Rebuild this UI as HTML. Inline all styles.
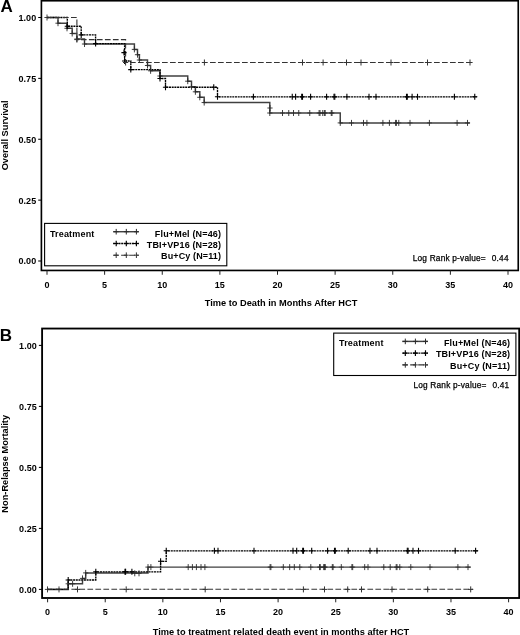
<!DOCTYPE html>
<html><head><meta charset="utf-8"><title>Figure</title>
<style>html,body{margin:0;padding:0;background:#fff}svg{display:block}text{font-family:'Liberation Sans', Arial, sans-serif;fill:#000}</style>
</head><body>
<svg width="520" height="635" viewBox="0 0 520 635">
<rect width="520" height="635" fill="#fff"/>
<rect x="41.4" y="0.75" width="476.85" height="269.7" fill="none" stroke="#000" stroke-width="1.65"/>
<path d="M38.20 261.00H41.4" stroke="#000" stroke-width="1.05"/>
<text x="36.2" y="264.45" text-anchor="end" font-size="9" font-weight="bold" textLength="17.7" lengthAdjust="spacing">0.00</text>
<path d="M38.20 200.12H41.4" stroke="#000" stroke-width="1.05"/>
<text x="36.2" y="203.57" text-anchor="end" font-size="9" font-weight="bold" textLength="17.7" lengthAdjust="spacing">0.25</text>
<path d="M38.20 139.25H41.4" stroke="#000" stroke-width="1.05"/>
<text x="36.2" y="142.70" text-anchor="end" font-size="9" font-weight="bold" textLength="17.7" lengthAdjust="spacing">0.50</text>
<path d="M38.20 78.38H41.4" stroke="#000" stroke-width="1.05"/>
<text x="36.2" y="81.83" text-anchor="end" font-size="9" font-weight="bold" textLength="17.7" lengthAdjust="spacing">0.75</text>
<path d="M38.20 17.50H41.4" stroke="#000" stroke-width="1.05"/>
<text x="36.2" y="20.95" text-anchor="end" font-size="9" font-weight="bold" textLength="17.7" lengthAdjust="spacing">1.00</text>
<path d="M47.00 270.45V274.75" stroke="#222" stroke-width="1.0"/>
<text x="47.00" y="288" text-anchor="middle" font-size="9" font-weight="bold">0</text>
<path d="M104.62 270.45V274.75" stroke="#222" stroke-width="1.0"/>
<text x="104.62" y="288" text-anchor="middle" font-size="9" font-weight="bold">5</text>
<path d="M162.25 270.45V274.75" stroke="#222" stroke-width="1.0"/>
<text x="162.25" y="288" text-anchor="middle" font-size="9" font-weight="bold">10</text>
<path d="M219.88 270.45V274.75" stroke="#222" stroke-width="1.0"/>
<text x="219.88" y="288" text-anchor="middle" font-size="9" font-weight="bold">15</text>
<path d="M277.50 270.45V274.75" stroke="#222" stroke-width="1.0"/>
<text x="277.50" y="288" text-anchor="middle" font-size="9" font-weight="bold">20</text>
<path d="M335.12 270.45V274.75" stroke="#222" stroke-width="1.0"/>
<text x="335.12" y="288" text-anchor="middle" font-size="9" font-weight="bold">25</text>
<path d="M392.75 270.45V274.75" stroke="#222" stroke-width="1.0"/>
<text x="392.75" y="288" text-anchor="middle" font-size="9" font-weight="bold">30</text>
<path d="M450.38 270.45V274.75" stroke="#222" stroke-width="1.0"/>
<text x="450.38" y="288" text-anchor="middle" font-size="9" font-weight="bold">35</text>
<path d="M508.00 270.45V274.75" stroke="#222" stroke-width="1.0"/>
<text x="508.00" y="288" text-anchor="middle" font-size="9" font-weight="bold">40</text>
<text x="0.5" y="12.3" font-size="17" font-weight="bold">A</text>
<text transform="translate(7.6 135.4) rotate(-90)" text-anchor="middle" font-size="9.25" font-weight="bold">Overall Survival</text>
<text x="281" y="306" text-anchor="middle" font-size="9.25" font-weight="bold" textLength="152.6" lengthAdjust="spacing">Time to Death in Months After HCT</text>
<path d="M47.00 17.50H58.00V23.20H67.00V28.30H72.20V33.50H76.90V39.00H84.50V44.00H134.40V49.40H137.50V54.70H139.40V60.00H147.50V65.50H150.60V70.80H160.00V76.00H187.75V81.20H191.50V86.80H195.40V91.80H199.80V97.30H204.20V102.55H269.80V113.00H340.25V122.90H469.8" stroke="#404040" stroke-width="1.45" fill="none"/>
<path d="M47.00 17.50H67.30V26.20H81.20V34.90H95.60V43.60H124.60V61.00H130.80V69.60H160.00V78.50H165.50V87.20H217.50V96.80H476.8" stroke="#000" stroke-width="1.35" stroke-dasharray="2.0 0.7" fill="none"/>
<path d="M47.00 17.50H76.90V39.60H125.60V62.50H472" stroke="#333" stroke-width="1.1" stroke-dasharray="5.7 2.3" fill="none"/>
<path d="M44.40 17.50H49.60M47.00 14.50V20.50" stroke="#2a2a2a" stroke-width="0.9" fill="none"/>
<path d="M55.40 23.20H60.60M58.00 20.20V26.20" stroke="#2a2a2a" stroke-width="0.9" fill="none"/>
<path d="M64.40 28.30H69.60M67.00 25.30V31.30" stroke="#2a2a2a" stroke-width="0.9" fill="none"/>
<path d="M69.60 33.50H74.80M72.20 30.50V36.50" stroke="#2a2a2a" stroke-width="0.9" fill="none"/>
<path d="M74.30 39.00H79.50M76.90 36.00V42.00" stroke="#2a2a2a" stroke-width="0.9" fill="none"/>
<path d="M81.90 44.00H87.10M84.50 41.00V47.00" stroke="#2a2a2a" stroke-width="0.9" fill="none"/>
<path d="M131.80 49.40H137.00M134.40 46.40V52.40" stroke="#2a2a2a" stroke-width="0.9" fill="none"/>
<path d="M134.90 54.70H140.10M137.50 51.70V57.70" stroke="#2a2a2a" stroke-width="0.9" fill="none"/>
<path d="M136.80 60.00H142.00M139.40 57.00V63.00" stroke="#2a2a2a" stroke-width="0.9" fill="none"/>
<path d="M144.90 65.50H150.10M147.50 62.50V68.50" stroke="#2a2a2a" stroke-width="0.9" fill="none"/>
<path d="M148.00 70.80H153.20M150.60 67.80V73.80" stroke="#2a2a2a" stroke-width="0.9" fill="none"/>
<path d="M157.40 76.00H162.60M160.00 73.00V79.00" stroke="#2a2a2a" stroke-width="0.9" fill="none"/>
<path d="M185.15 81.20H190.35M187.75 78.20V84.20" stroke="#2a2a2a" stroke-width="0.9" fill="none"/>
<path d="M188.90 86.80H194.10M191.50 83.80V89.80" stroke="#2a2a2a" stroke-width="0.9" fill="none"/>
<path d="M192.80 91.80H198.00M195.40 88.80V94.80" stroke="#2a2a2a" stroke-width="0.9" fill="none"/>
<path d="M197.20 97.30H202.40M199.80 94.30V100.30" stroke="#2a2a2a" stroke-width="0.9" fill="none"/>
<path d="M201.60 102.55H206.80M204.20 99.55V105.55" stroke="#2a2a2a" stroke-width="0.9" fill="none"/>
<path d="M267.20 113.00H272.40M269.80 110.00V116.00" stroke="#2a2a2a" stroke-width="0.9" fill="none"/>
<path d="M337.65 122.90H342.85M340.25 119.90V125.90" stroke="#2a2a2a" stroke-width="0.9" fill="none"/>
<path d="M267.40 108.00H272.60M270.00 105.00V111.00" stroke="#2a2a2a" stroke-width="0.9" fill="none"/>
<path d="M282.50 110.00V116.00" stroke="#2a2a2a" stroke-width="0.9" fill="none"/><path d="M280.00 113.00H285.00" stroke="#2a2a2a" stroke-width="0.68" fill="none"/>
<path d="M288.75 110.00V116.00" stroke="#2a2a2a" stroke-width="0.9" fill="none"/><path d="M286.25 113.00H291.25" stroke="#2a2a2a" stroke-width="0.68" fill="none"/>
<path d="M293.50 110.00V116.00" stroke="#2a2a2a" stroke-width="0.9" fill="none"/><path d="M291.00 113.00H296.00" stroke="#2a2a2a" stroke-width="0.68" fill="none"/>
<path d="M298.75 110.00V116.00" stroke="#2a2a2a" stroke-width="0.9" fill="none"/><path d="M296.25 113.00H301.25" stroke="#2a2a2a" stroke-width="0.68" fill="none"/>
<path d="M309.75 110.00V116.00" stroke="#2a2a2a" stroke-width="0.9" fill="none"/><path d="M307.25 113.00H312.25" stroke="#2a2a2a" stroke-width="0.68" fill="none"/>
<path d="M319.10 110.00V116.00" stroke="#2a2a2a" stroke-width="0.9" fill="none"/><path d="M316.60 113.00H321.60" stroke="#2a2a2a" stroke-width="0.68" fill="none"/>
<path d="M320.00 110.00V116.00" stroke="#2a2a2a" stroke-width="0.9" fill="none"/><path d="M317.50 113.00H322.50" stroke="#2a2a2a" stroke-width="0.68" fill="none"/>
<path d="M322.75 110.00V116.00" stroke="#2a2a2a" stroke-width="0.9" fill="none"/><path d="M320.25 113.00H325.25" stroke="#2a2a2a" stroke-width="0.68" fill="none"/>
<path d="M324.40 110.00V116.00" stroke="#2a2a2a" stroke-width="0.9" fill="none"/><path d="M321.90 113.00H326.90" stroke="#2a2a2a" stroke-width="0.68" fill="none"/>
<path d="M325.20 110.00V116.00" stroke="#2a2a2a" stroke-width="0.9" fill="none"/><path d="M322.70 113.00H327.70" stroke="#2a2a2a" stroke-width="0.68" fill="none"/>
<path d="M331.25 110.00V116.00" stroke="#2a2a2a" stroke-width="0.9" fill="none"/><path d="M328.75 113.00H333.75" stroke="#2a2a2a" stroke-width="0.68" fill="none"/>
<path d="M332.00 110.00V116.00" stroke="#2a2a2a" stroke-width="0.9" fill="none"/><path d="M329.50 113.00H334.50" stroke="#2a2a2a" stroke-width="0.68" fill="none"/>
<path d="M351.50 119.90V125.90" stroke="#2a2a2a" stroke-width="0.9" fill="none"/><path d="M349.00 122.90H354.00" stroke="#2a2a2a" stroke-width="0.68" fill="none"/>
<path d="M363.50 119.90V125.90" stroke="#2a2a2a" stroke-width="0.9" fill="none"/><path d="M361.00 122.90H366.00" stroke="#2a2a2a" stroke-width="0.68" fill="none"/>
<path d="M366.90 119.90V125.90" stroke="#2a2a2a" stroke-width="0.9" fill="none"/><path d="M364.40 122.90H369.40" stroke="#2a2a2a" stroke-width="0.68" fill="none"/>
<path d="M382.90 119.90V125.90" stroke="#2a2a2a" stroke-width="0.9" fill="none"/><path d="M380.40 122.90H385.40" stroke="#2a2a2a" stroke-width="0.68" fill="none"/>
<path d="M389.40 119.90V125.90" stroke="#2a2a2a" stroke-width="0.9" fill="none"/><path d="M386.90 122.90H391.90" stroke="#2a2a2a" stroke-width="0.68" fill="none"/>
<path d="M395.60 119.90V125.90" stroke="#2a2a2a" stroke-width="0.9" fill="none"/><path d="M393.10 122.90H398.10" stroke="#2a2a2a" stroke-width="0.68" fill="none"/>
<path d="M396.40 119.90V125.90" stroke="#2a2a2a" stroke-width="0.9" fill="none"/><path d="M393.90 122.90H398.90" stroke="#2a2a2a" stroke-width="0.68" fill="none"/>
<path d="M398.75 119.90V125.90" stroke="#2a2a2a" stroke-width="0.9" fill="none"/><path d="M396.25 122.90H401.25" stroke="#2a2a2a" stroke-width="0.68" fill="none"/>
<path d="M410.00 119.90V125.90" stroke="#2a2a2a" stroke-width="0.9" fill="none"/><path d="M407.50 122.90H412.50" stroke="#2a2a2a" stroke-width="0.68" fill="none"/>
<path d="M429.40 119.90V125.90" stroke="#2a2a2a" stroke-width="0.9" fill="none"/><path d="M426.90 122.90H431.90" stroke="#2a2a2a" stroke-width="0.68" fill="none"/>
<path d="M457.10 119.90V125.90" stroke="#2a2a2a" stroke-width="0.9" fill="none"/><path d="M454.60 122.90H459.60" stroke="#2a2a2a" stroke-width="0.68" fill="none"/>
<path d="M464.90 122.90H470.10M467.50 119.90V125.90" stroke="#2a2a2a" stroke-width="0.9" fill="none"/>
<path d="M64.70 26.20H69.90M67.30 23.20V29.20" stroke="#000" stroke-width="1.1" fill="none"/>
<path d="M78.60 34.90H83.80M81.20 31.90V37.90" stroke="#000" stroke-width="1.1" fill="none"/>
<path d="M93.00 43.60H98.20M95.60 40.60V46.60" stroke="#000" stroke-width="1.1" fill="none"/>
<path d="M122.00 61.00H127.20M124.60 58.00V64.00" stroke="#000" stroke-width="1.1" fill="none"/>
<path d="M128.20 69.60H133.40M130.80 66.60V72.60" stroke="#000" stroke-width="1.1" fill="none"/>
<path d="M157.40 78.50H162.60M160.00 75.50V81.50" stroke="#000" stroke-width="1.1" fill="none"/>
<path d="M162.90 87.20H168.10M165.50 84.20V90.20" stroke="#000" stroke-width="1.1" fill="none"/>
<path d="M214.90 96.80H220.10M217.50 93.80V99.80" stroke="#000" stroke-width="1.1" fill="none"/>
<path d="M121.40 52.60H126.60M124.00 49.60V55.60" stroke="#000" stroke-width="1.1" fill="none"/>
<path d="M211.15 87.20H216.35M213.75 84.20V90.20" stroke="#000" stroke-width="1.1" fill="none"/>
<path d="M253.40 93.80V99.80" stroke="#000" stroke-width="1.1" fill="none"/><path d="M250.90 96.80H255.90" stroke="#000" stroke-width="0.83" fill="none"/>
<path d="M292.25 93.80V99.80" stroke="#000" stroke-width="1.1" fill="none"/><path d="M289.75 96.80H294.75" stroke="#000" stroke-width="0.83" fill="none"/>
<path d="M295.60 93.80V99.80" stroke="#000" stroke-width="1.1" fill="none"/><path d="M293.10 96.80H298.10" stroke="#000" stroke-width="0.83" fill="none"/>
<path d="M301.70 93.80V99.80" stroke="#000" stroke-width="1.1" fill="none"/><path d="M299.20 96.80H304.20" stroke="#000" stroke-width="0.83" fill="none"/>
<path d="M302.50 93.80V99.80" stroke="#000" stroke-width="1.1" fill="none"/><path d="M300.00 96.80H305.00" stroke="#000" stroke-width="0.83" fill="none"/>
<path d="M310.60 93.80V99.80" stroke="#000" stroke-width="1.1" fill="none"/><path d="M308.10 96.80H313.10" stroke="#000" stroke-width="0.83" fill="none"/>
<path d="M326.60 93.80V99.80" stroke="#000" stroke-width="1.1" fill="none"/><path d="M324.10 96.80H329.10" stroke="#000" stroke-width="0.83" fill="none"/>
<path d="M334.00 93.80V99.80" stroke="#000" stroke-width="1.1" fill="none"/><path d="M331.50 96.80H336.50" stroke="#000" stroke-width="0.83" fill="none"/>
<path d="M334.80 93.80V99.80" stroke="#000" stroke-width="1.1" fill="none"/><path d="M332.30 96.80H337.30" stroke="#000" stroke-width="0.83" fill="none"/>
<path d="M346.90 93.80V99.80" stroke="#000" stroke-width="1.1" fill="none"/><path d="M344.40 96.80H349.40" stroke="#000" stroke-width="0.83" fill="none"/>
<path d="M369.00 93.80V99.80" stroke="#000" stroke-width="1.1" fill="none"/><path d="M366.50 96.80H371.50" stroke="#000" stroke-width="0.83" fill="none"/>
<path d="M376.00 93.80V99.80" stroke="#000" stroke-width="1.1" fill="none"/><path d="M373.50 96.80H378.50" stroke="#000" stroke-width="0.83" fill="none"/>
<path d="M406.50 93.80V99.80" stroke="#000" stroke-width="1.1" fill="none"/><path d="M404.00 96.80H409.00" stroke="#000" stroke-width="0.83" fill="none"/>
<path d="M407.30 93.80V99.80" stroke="#000" stroke-width="1.1" fill="none"/><path d="M404.80 96.80H409.80" stroke="#000" stroke-width="0.83" fill="none"/>
<path d="M412.10 93.80V99.80" stroke="#000" stroke-width="1.1" fill="none"/><path d="M409.60 96.80H414.60" stroke="#000" stroke-width="0.83" fill="none"/>
<path d="M417.50 93.80V99.80" stroke="#000" stroke-width="1.1" fill="none"/><path d="M415.00 96.80H420.00" stroke="#000" stroke-width="0.83" fill="none"/>
<path d="M454.40 93.80V99.80" stroke="#000" stroke-width="1.1" fill="none"/><path d="M451.90 96.80H456.90" stroke="#000" stroke-width="0.83" fill="none"/>
<path d="M472.15 96.80H477.35M474.75 93.80V99.80" stroke="#000" stroke-width="1.1" fill="none"/>
<path d="M74.30 39.60H79.50M76.90 36.60V42.60" stroke="#333" stroke-width="1.0" fill="none"/>
<path d="M123.00 62.50H128.20M125.60 59.50V65.50" stroke="#333" stroke-width="1.0" fill="none"/>
<path d="M201.80 62.50H207.00M204.40 59.50V65.50" stroke="#333" stroke-width="1.0" fill="none"/>
<path d="M299.90 62.50H305.10M302.50 59.50V65.50" stroke="#333" stroke-width="1.0" fill="none"/>
<path d="M320.50 62.50H325.70M323.10 59.50V65.50" stroke="#333" stroke-width="1.0" fill="none"/>
<path d="M343.90 62.50H349.10M346.50 59.50V65.50" stroke="#333" stroke-width="1.0" fill="none"/>
<path d="M358.40 62.50H363.60M361.00 59.50V65.50" stroke="#333" stroke-width="1.0" fill="none"/>
<path d="M388.40 62.50H393.60M391.00 59.50V65.50" stroke="#333" stroke-width="1.0" fill="none"/>
<path d="M424.90 62.50H430.10M427.50 59.50V65.50" stroke="#333" stroke-width="1.0" fill="none"/>
<path d="M467.40 62.50H472.60M470.00 59.50V65.50" stroke="#333" stroke-width="1.0" fill="none"/>
<rect x="44.6" y="223.4" width="182.2" height="42.4" fill="#fff" stroke="#000" stroke-width="1.1"/>
<text x="49.9" y="236.9" font-size="9" font-weight="bold" textLength="44.4" lengthAdjust="spacing">Treatment</text>
<text x="221.0" y="236.9" text-anchor="end" font-size="9" font-weight="bold" textLength="66.2" lengthAdjust="spacing">Flu+Mel (N=46)</text>
<path d="M113.1 231.70H138.8" stroke="#404040" stroke-width="1.45" fill="none"/>
<path d="M113.80 231.70H118.60M116.20 228.90V234.50" stroke="#2a2a2a" stroke-width="1.0" fill="none"/>
<path d="M123.90 231.70H128.70M126.30 228.90V234.50" stroke="#2a2a2a" stroke-width="1.0" fill="none"/>
<path d="M134.00 231.70H138.80M136.40 228.90V234.50" stroke="#2a2a2a" stroke-width="1.0" fill="none"/>
<text x="221.0" y="248.1" text-anchor="end" font-size="9" font-weight="bold" textLength="74.2" lengthAdjust="spacing">TBI+VP16 (N=28)</text>
<path d="M113.1 243.45H138.8" stroke="#000" stroke-width="1.35" stroke-dasharray="2.0 0.7" fill="none"/>
<path d="M113.80 243.45H118.60M116.20 240.65V246.25" stroke="#000" stroke-width="1.15" fill="none"/>
<path d="M123.90 243.45H128.70M126.30 240.65V246.25" stroke="#000" stroke-width="1.15" fill="none"/>
<path d="M134.00 243.45H138.80M136.40 240.65V246.25" stroke="#000" stroke-width="1.15" fill="none"/>
<text x="221.0" y="259.4" text-anchor="end" font-size="9" font-weight="bold" textLength="60.0" lengthAdjust="spacing">Bu+Cy (N=11)</text>
<path d="M113.1 255.20H138.8" stroke="#333" stroke-width="1.1" stroke-dasharray="5.7 2.3" fill="none"/>
<path d="M113.80 255.20H118.60M116.20 252.40V258.00" stroke="#333" stroke-width="1.0" fill="none"/>
<path d="M123.90 255.20H128.70M126.30 252.40V258.00" stroke="#333" stroke-width="1.0" fill="none"/>
<path d="M134.00 255.20H138.80M136.40 252.40V258.00" stroke="#333" stroke-width="1.0" fill="none"/>
<text x="412.7" y="260.9" font-size="8.3" textLength="73" lengthAdjust="spacing" stroke="#000" stroke-width="0.25">Log Rank p-value=</text>
<text x="491.7" y="260.9" font-size="8.3" textLength="16.8" lengthAdjust="spacing" stroke="#000" stroke-width="0.25">0.44</text>
<rect x="42.1" y="328.55" width="477.1" height="269.45" fill="none" stroke="#000" stroke-width="1.85"/>
<path d="M38.90 589.40H42.1" stroke="#000" stroke-width="1.05"/>
<text x="36.8" y="592.85" text-anchor="end" font-size="9" font-weight="bold" textLength="17.7" lengthAdjust="spacing">0.00</text>
<path d="M38.90 528.40H42.1" stroke="#000" stroke-width="1.05"/>
<text x="36.8" y="531.85" text-anchor="end" font-size="9" font-weight="bold" textLength="17.7" lengthAdjust="spacing">0.25</text>
<path d="M38.90 467.40H42.1" stroke="#000" stroke-width="1.05"/>
<text x="36.8" y="470.85" text-anchor="end" font-size="9" font-weight="bold" textLength="17.7" lengthAdjust="spacing">0.50</text>
<path d="M38.90 406.40H42.1" stroke="#000" stroke-width="1.05"/>
<text x="36.8" y="409.85" text-anchor="end" font-size="9" font-weight="bold" textLength="17.7" lengthAdjust="spacing">0.75</text>
<path d="M38.90 345.40H42.1" stroke="#000" stroke-width="1.05"/>
<text x="36.8" y="348.85" text-anchor="end" font-size="9" font-weight="bold" textLength="17.7" lengthAdjust="spacing">1.00</text>
<path d="M47.60 598.0V602.30" stroke="#222" stroke-width="1.0"/>
<text x="47.60" y="615.25" text-anchor="middle" font-size="9" font-weight="bold">0</text>
<path d="M105.22 598.0V602.30" stroke="#222" stroke-width="1.0"/>
<text x="105.22" y="615.25" text-anchor="middle" font-size="9" font-weight="bold">5</text>
<path d="M162.85 598.0V602.30" stroke="#222" stroke-width="1.0"/>
<text x="162.85" y="615.25" text-anchor="middle" font-size="9" font-weight="bold">10</text>
<path d="M220.47 598.0V602.30" stroke="#222" stroke-width="1.0"/>
<text x="220.47" y="615.25" text-anchor="middle" font-size="9" font-weight="bold">15</text>
<path d="M278.10 598.0V602.30" stroke="#222" stroke-width="1.0"/>
<text x="278.10" y="615.25" text-anchor="middle" font-size="9" font-weight="bold">20</text>
<path d="M335.73 598.0V602.30" stroke="#222" stroke-width="1.0"/>
<text x="335.73" y="615.25" text-anchor="middle" font-size="9" font-weight="bold">25</text>
<path d="M393.35 598.0V602.30" stroke="#222" stroke-width="1.0"/>
<text x="393.35" y="615.25" text-anchor="middle" font-size="9" font-weight="bold">30</text>
<path d="M450.98 598.0V602.30" stroke="#222" stroke-width="1.0"/>
<text x="450.98" y="615.25" text-anchor="middle" font-size="9" font-weight="bold">35</text>
<path d="M508.60 598.0V602.30" stroke="#222" stroke-width="1.0"/>
<text x="508.60" y="615.25" text-anchor="middle" font-size="9" font-weight="bold">40</text>
<text x="-0.3" y="340.5" font-size="17" font-weight="bold">B</text>
<text transform="translate(7.6 463.8) rotate(-90)" text-anchor="middle" font-size="9.25" font-weight="bold">Non-Relapse Mortality</text>
<text x="281" y="634.6" text-anchor="middle" font-size="9.25" font-weight="bold" textLength="256.5" lengthAdjust="spacing">Time to treatment related death event in months after HCT</text>
<path d="M47.40 589.40H68.20V583.80H82.50V578.40H85.70V572.90H148.00V567.10H470.7" stroke="#404040" stroke-width="1.45" fill="none"/>
<path d="M47.40 589.40H68.20V580.00H95.80V571.80H160.60V561.30H166.25V550.80H478" stroke="#000" stroke-width="1.35" stroke-dasharray="2.0 0.7" fill="none"/>
<path d="M47.4 589.3H473" stroke="#333" stroke-width="1.1" stroke-dasharray="5.7 2.3" fill="none"/>
<path d="M44.90 589.40H50.10M47.50 586.40V592.40" stroke="#2a2a2a" stroke-width="0.9" fill="none"/>
<path d="M56.40 589.40H61.60M59.00 586.40V592.40" stroke="#2a2a2a" stroke-width="0.9" fill="none"/>
<path d="M65.60 583.80H70.80M68.20 580.80V586.80" stroke="#2a2a2a" stroke-width="0.9" fill="none"/>
<path d="M79.90 578.40H85.10M82.50 575.40V581.40" stroke="#2a2a2a" stroke-width="0.9" fill="none"/>
<path d="M83.10 572.90H88.30M85.70 569.90V575.90" stroke="#2a2a2a" stroke-width="0.9" fill="none"/>
<path d="M145.40 567.10H150.60M148.00 564.10V570.10" stroke="#2a2a2a" stroke-width="0.9" fill="none"/>
<path d="M70.00 583.80H75.20M72.60 580.80V586.80" stroke="#2a2a2a" stroke-width="0.9" fill="none"/>
<path d="M132.15 573.30H137.35M134.75 570.30V576.30" stroke="#2a2a2a" stroke-width="0.9" fill="none"/>
<path d="M136.40 573.30H141.60M139.00 570.30V576.30" stroke="#2a2a2a" stroke-width="0.9" fill="none"/>
<path d="M150.90 564.10V570.10" stroke="#2a2a2a" stroke-width="0.9" fill="none"/><path d="M148.40 567.10H153.40" stroke="#2a2a2a" stroke-width="0.68" fill="none"/>
<path d="M188.20 564.10V570.10" stroke="#2a2a2a" stroke-width="0.9" fill="none"/><path d="M185.70 567.10H190.70" stroke="#2a2a2a" stroke-width="0.68" fill="none"/>
<path d="M192.40 564.10V570.10" stroke="#2a2a2a" stroke-width="0.9" fill="none"/><path d="M189.90 567.10H194.90" stroke="#2a2a2a" stroke-width="0.68" fill="none"/>
<path d="M196.40 564.10V570.10" stroke="#2a2a2a" stroke-width="0.9" fill="none"/><path d="M193.90 567.10H198.90" stroke="#2a2a2a" stroke-width="0.68" fill="none"/>
<path d="M201.00 564.10V570.10" stroke="#2a2a2a" stroke-width="0.9" fill="none"/><path d="M198.50 567.10H203.50" stroke="#2a2a2a" stroke-width="0.68" fill="none"/>
<path d="M204.90 564.10V570.10" stroke="#2a2a2a" stroke-width="0.9" fill="none"/><path d="M202.40 567.10H207.40" stroke="#2a2a2a" stroke-width="0.68" fill="none"/>
<path d="M270.10 564.10V570.10" stroke="#2a2a2a" stroke-width="0.9" fill="none"/><path d="M267.60 567.10H272.60" stroke="#2a2a2a" stroke-width="0.68" fill="none"/>
<path d="M270.90 564.10V570.10" stroke="#2a2a2a" stroke-width="0.9" fill="none"/><path d="M268.40 567.10H273.40" stroke="#2a2a2a" stroke-width="0.68" fill="none"/>
<path d="M283.30 564.10V570.10" stroke="#2a2a2a" stroke-width="0.9" fill="none"/><path d="M280.80 567.10H285.80" stroke="#2a2a2a" stroke-width="0.68" fill="none"/>
<path d="M289.70 564.10V570.10" stroke="#2a2a2a" stroke-width="0.9" fill="none"/><path d="M287.20 567.10H292.20" stroke="#2a2a2a" stroke-width="0.68" fill="none"/>
<path d="M294.30 564.10V570.10" stroke="#2a2a2a" stroke-width="0.9" fill="none"/><path d="M291.80 567.10H296.80" stroke="#2a2a2a" stroke-width="0.68" fill="none"/>
<path d="M299.80 564.10V570.10" stroke="#2a2a2a" stroke-width="0.9" fill="none"/><path d="M297.30 567.10H302.30" stroke="#2a2a2a" stroke-width="0.68" fill="none"/>
<path d="M310.80 564.10V570.10" stroke="#2a2a2a" stroke-width="0.9" fill="none"/><path d="M308.30 567.10H313.30" stroke="#2a2a2a" stroke-width="0.68" fill="none"/>
<path d="M319.50 564.10V570.10" stroke="#2a2a2a" stroke-width="0.9" fill="none"/><path d="M317.00 567.10H322.00" stroke="#2a2a2a" stroke-width="0.68" fill="none"/>
<path d="M320.30 564.10V570.10" stroke="#2a2a2a" stroke-width="0.9" fill="none"/><path d="M317.80 567.10H322.80" stroke="#2a2a2a" stroke-width="0.68" fill="none"/>
<path d="M323.70 564.10V570.10" stroke="#2a2a2a" stroke-width="0.9" fill="none"/><path d="M321.20 567.10H326.20" stroke="#2a2a2a" stroke-width="0.68" fill="none"/>
<path d="M324.50 564.10V570.10" stroke="#2a2a2a" stroke-width="0.9" fill="none"/><path d="M322.00 567.10H327.00" stroke="#2a2a2a" stroke-width="0.68" fill="none"/>
<path d="M325.30 564.10V570.10" stroke="#2a2a2a" stroke-width="0.9" fill="none"/><path d="M322.80 567.10H327.80" stroke="#2a2a2a" stroke-width="0.68" fill="none"/>
<path d="M332.30 564.10V570.10" stroke="#2a2a2a" stroke-width="0.9" fill="none"/><path d="M329.80 567.10H334.80" stroke="#2a2a2a" stroke-width="0.68" fill="none"/>
<path d="M333.10 564.10V570.10" stroke="#2a2a2a" stroke-width="0.9" fill="none"/><path d="M330.60 567.10H335.60" stroke="#2a2a2a" stroke-width="0.68" fill="none"/>
<path d="M341.30 564.10V570.10" stroke="#2a2a2a" stroke-width="0.9" fill="none"/><path d="M338.80 567.10H343.80" stroke="#2a2a2a" stroke-width="0.68" fill="none"/>
<path d="M351.90 564.10V570.10" stroke="#2a2a2a" stroke-width="0.9" fill="none"/><path d="M349.40 567.10H354.40" stroke="#2a2a2a" stroke-width="0.68" fill="none"/>
<path d="M352.70 564.10V570.10" stroke="#2a2a2a" stroke-width="0.9" fill="none"/><path d="M350.20 567.10H355.20" stroke="#2a2a2a" stroke-width="0.68" fill="none"/>
<path d="M364.70 564.10V570.10" stroke="#2a2a2a" stroke-width="0.9" fill="none"/><path d="M362.20 567.10H367.20" stroke="#2a2a2a" stroke-width="0.68" fill="none"/>
<path d="M368.00 564.10V570.10" stroke="#2a2a2a" stroke-width="0.9" fill="none"/><path d="M365.50 567.10H370.50" stroke="#2a2a2a" stroke-width="0.68" fill="none"/>
<path d="M383.80 564.10V570.10" stroke="#2a2a2a" stroke-width="0.9" fill="none"/><path d="M381.30 567.10H386.30" stroke="#2a2a2a" stroke-width="0.68" fill="none"/>
<path d="M390.20 564.10V570.10" stroke="#2a2a2a" stroke-width="0.9" fill="none"/><path d="M387.70 567.10H392.70" stroke="#2a2a2a" stroke-width="0.68" fill="none"/>
<path d="M396.20 564.10V570.10" stroke="#2a2a2a" stroke-width="0.9" fill="none"/><path d="M393.70 567.10H398.70" stroke="#2a2a2a" stroke-width="0.68" fill="none"/>
<path d="M397.00 564.10V570.10" stroke="#2a2a2a" stroke-width="0.9" fill="none"/><path d="M394.50 567.10H399.50" stroke="#2a2a2a" stroke-width="0.68" fill="none"/>
<path d="M399.80 564.10V570.10" stroke="#2a2a2a" stroke-width="0.9" fill="none"/><path d="M397.30 567.10H402.30" stroke="#2a2a2a" stroke-width="0.68" fill="none"/>
<path d="M410.80 564.10V570.10" stroke="#2a2a2a" stroke-width="0.9" fill="none"/><path d="M408.30 567.10H413.30" stroke="#2a2a2a" stroke-width="0.68" fill="none"/>
<path d="M430.00 564.10V570.10" stroke="#2a2a2a" stroke-width="0.9" fill="none"/><path d="M427.50 567.10H432.50" stroke="#2a2a2a" stroke-width="0.68" fill="none"/>
<path d="M457.90 564.10V570.10" stroke="#2a2a2a" stroke-width="0.9" fill="none"/><path d="M455.40 567.10H460.40" stroke="#2a2a2a" stroke-width="0.68" fill="none"/>
<path d="M465.40 567.10H470.60M468.00 564.10V570.10" stroke="#2a2a2a" stroke-width="0.9" fill="none"/>
<path d="M65.60 580.00H70.80M68.20 577.00V583.00" stroke="#000" stroke-width="1.1" fill="none"/>
<path d="M93.20 571.80H98.40M95.80 568.80V574.80" stroke="#000" stroke-width="1.1" fill="none"/>
<path d="M158.00 561.30H163.20M160.60 558.30V564.30" stroke="#000" stroke-width="1.1" fill="none"/>
<path d="M163.65 550.80H168.85M166.25 547.80V553.80" stroke="#000" stroke-width="1.1" fill="none"/>
<path d="M122.40 571.80H127.60M125.00 568.80V574.80" stroke="#000" stroke-width="1.1" fill="none"/>
<path d="M123.00 571.80H128.20M125.60 568.80V574.80" stroke="#000" stroke-width="1.1" fill="none"/>
<path d="M129.30 571.80H134.50M131.90 568.80V574.80" stroke="#000" stroke-width="1.1" fill="none"/>
<path d="M214.40 547.80V553.80" stroke="#000" stroke-width="1.1" fill="none"/><path d="M211.90 550.80H216.90" stroke="#000" stroke-width="0.83" fill="none"/>
<path d="M218.00 547.80V553.80" stroke="#000" stroke-width="1.1" fill="none"/><path d="M215.50 550.80H220.50" stroke="#000" stroke-width="0.83" fill="none"/>
<path d="M254.00 547.80V553.80" stroke="#000" stroke-width="1.1" fill="none"/><path d="M251.50 550.80H256.50" stroke="#000" stroke-width="0.83" fill="none"/>
<path d="M293.00 547.80V553.80" stroke="#000" stroke-width="1.1" fill="none"/><path d="M290.50 550.80H295.50" stroke="#000" stroke-width="0.83" fill="none"/>
<path d="M296.70 547.80V553.80" stroke="#000" stroke-width="1.1" fill="none"/><path d="M294.20 550.80H299.20" stroke="#000" stroke-width="0.83" fill="none"/>
<path d="M302.70 547.80V553.80" stroke="#000" stroke-width="1.1" fill="none"/><path d="M300.20 550.80H305.20" stroke="#000" stroke-width="0.83" fill="none"/>
<path d="M303.50 547.80V553.80" stroke="#000" stroke-width="1.1" fill="none"/><path d="M301.00 550.80H306.00" stroke="#000" stroke-width="0.83" fill="none"/>
<path d="M311.70 547.80V553.80" stroke="#000" stroke-width="1.1" fill="none"/><path d="M309.20 550.80H314.20" stroke="#000" stroke-width="0.83" fill="none"/>
<path d="M327.60 547.80V553.80" stroke="#000" stroke-width="1.1" fill="none"/><path d="M325.10 550.80H330.10" stroke="#000" stroke-width="0.83" fill="none"/>
<path d="M334.50 547.80V553.80" stroke="#000" stroke-width="1.1" fill="none"/><path d="M332.00 550.80H337.00" stroke="#000" stroke-width="0.83" fill="none"/>
<path d="M335.30 547.80V553.80" stroke="#000" stroke-width="1.1" fill="none"/><path d="M332.80 550.80H337.80" stroke="#000" stroke-width="0.83" fill="none"/>
<path d="M348.20 547.80V553.80" stroke="#000" stroke-width="1.1" fill="none"/><path d="M345.70 550.80H350.70" stroke="#000" stroke-width="0.83" fill="none"/>
<path d="M370.00 547.80V553.80" stroke="#000" stroke-width="1.1" fill="none"/><path d="M367.50 550.80H372.50" stroke="#000" stroke-width="0.83" fill="none"/>
<path d="M377.00 547.80V553.80" stroke="#000" stroke-width="1.1" fill="none"/><path d="M374.50 550.80H379.50" stroke="#000" stroke-width="0.83" fill="none"/>
<path d="M407.30 547.80V553.80" stroke="#000" stroke-width="1.1" fill="none"/><path d="M404.80 550.80H409.80" stroke="#000" stroke-width="0.83" fill="none"/>
<path d="M408.10 547.80V553.80" stroke="#000" stroke-width="1.1" fill="none"/><path d="M405.60 550.80H410.60" stroke="#000" stroke-width="0.83" fill="none"/>
<path d="M413.00 547.80V553.80" stroke="#000" stroke-width="1.1" fill="none"/><path d="M410.50 550.80H415.50" stroke="#000" stroke-width="0.83" fill="none"/>
<path d="M418.50 547.80V553.80" stroke="#000" stroke-width="1.1" fill="none"/><path d="M416.00 550.80H421.00" stroke="#000" stroke-width="0.83" fill="none"/>
<path d="M455.20 547.80V553.80" stroke="#000" stroke-width="1.1" fill="none"/><path d="M452.70 550.80H457.70" stroke="#000" stroke-width="0.83" fill="none"/>
<path d="M473.00 550.80H478.20M475.60 547.80V553.80" stroke="#000" stroke-width="1.1" fill="none"/>
<path d="M74.90 589.40H80.10M77.50 586.40V592.40" stroke="#333" stroke-width="1.0" fill="none"/>
<path d="M123.60 589.40H128.80M126.20 586.40V592.40" stroke="#333" stroke-width="1.0" fill="none"/>
<path d="M202.60 589.40H207.80M205.20 586.40V592.40" stroke="#333" stroke-width="1.0" fill="none"/>
<path d="M300.80 589.40H306.00M303.40 586.40V592.40" stroke="#333" stroke-width="1.0" fill="none"/>
<path d="M321.90 589.40H327.10M324.50 586.40V592.40" stroke="#333" stroke-width="1.0" fill="none"/>
<path d="M345.10 589.40H350.30M347.70 586.40V592.40" stroke="#333" stroke-width="1.0" fill="none"/>
<path d="M358.90 589.40H364.10M361.50 586.40V592.40" stroke="#333" stroke-width="1.0" fill="none"/>
<path d="M389.40 589.40H394.60M392.00 586.40V592.40" stroke="#333" stroke-width="1.0" fill="none"/>
<path d="M425.10 589.40H430.30M427.70 586.40V592.40" stroke="#333" stroke-width="1.0" fill="none"/>
<path d="M468.10 589.40H473.30M470.70 586.40V592.40" stroke="#333" stroke-width="1.0" fill="none"/>
<rect x="333.7" y="333.1" width="182.2" height="42.4" fill="#fff" stroke="#000" stroke-width="1.1"/>
<text x="339.0" y="345.5" font-size="9" font-weight="bold" textLength="44.4" lengthAdjust="spacing">Treatment</text>
<text x="510.1" y="345.5" text-anchor="end" font-size="9" font-weight="bold" textLength="66.2" lengthAdjust="spacing">Flu+Mel (N=46)</text>
<path d="M402.2 341.40H427.9" stroke="#404040" stroke-width="1.45" fill="none"/>
<path d="M402.90 341.40H407.70M405.30 338.60V344.20" stroke="#2a2a2a" stroke-width="1.0" fill="none"/>
<path d="M413.00 341.40H417.80M415.40 338.60V344.20" stroke="#2a2a2a" stroke-width="1.0" fill="none"/>
<path d="M423.10 341.40H427.90M425.50 338.60V344.20" stroke="#2a2a2a" stroke-width="1.0" fill="none"/>
<text x="510.1" y="357.0" text-anchor="end" font-size="9" font-weight="bold" textLength="74.2" lengthAdjust="spacing">TBI+VP16 (N=28)</text>
<path d="M402.2 353.15H427.9" stroke="#000" stroke-width="1.35" stroke-dasharray="2.0 0.7" fill="none"/>
<path d="M402.90 353.15H407.70M405.30 350.35V355.95" stroke="#000" stroke-width="1.15" fill="none"/>
<path d="M413.00 353.15H417.80M415.40 350.35V355.95" stroke="#000" stroke-width="1.15" fill="none"/>
<path d="M423.10 353.15H427.90M425.50 350.35V355.95" stroke="#000" stroke-width="1.15" fill="none"/>
<text x="510.1" y="368.6" text-anchor="end" font-size="9" font-weight="bold" textLength="60.0" lengthAdjust="spacing">Bu+Cy (N=11)</text>
<path d="M402.2 364.90H427.9" stroke="#333" stroke-width="1.1" stroke-dasharray="5.7 2.3" fill="none"/>
<path d="M402.90 364.90H407.70M405.30 362.10V367.70" stroke="#333" stroke-width="1.0" fill="none"/>
<path d="M413.00 364.90H417.80M415.40 362.10V367.70" stroke="#333" stroke-width="1.0" fill="none"/>
<path d="M423.10 364.90H427.90M425.50 362.10V367.70" stroke="#333" stroke-width="1.0" fill="none"/>
<text x="413.4" y="387.9" font-size="8.3" textLength="73" lengthAdjust="spacing" stroke="#000" stroke-width="0.25">Log Rank p-value=</text>
<text x="492.4" y="387.9" font-size="8.3" textLength="16.8" lengthAdjust="spacing" stroke="#000" stroke-width="0.25">0.41</text>
</svg></body></html>
